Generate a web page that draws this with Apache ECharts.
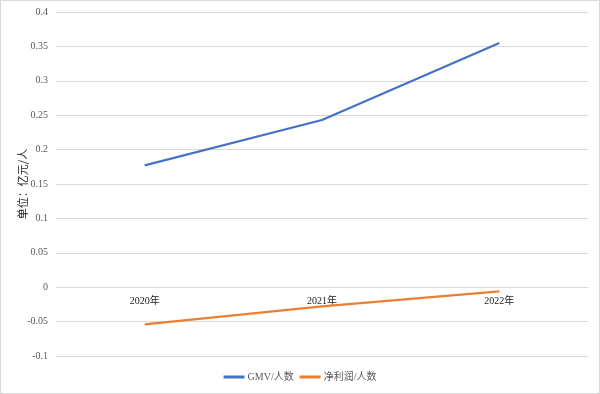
<!DOCTYPE html>
<html><head><meta charset="utf-8">
<script src="https://cdn.jsdelivr.net/npm/echarts@6/dist/echarts.min.js"></script>
<style>html,body{margin:0;padding:0;background:#fff}#c{width:600px;height:394px;box-sizing:border-box;border:1px solid #d9d9d9}</style>
</head><body><div id="c"></div>
<script>
const categories = ['2020年','2021年','2022年'];
const gmvPerPerson = [0.177, 0.243, 0.355];
const profitPerPerson = [-0.054, -0.028, -0.006];
const seriesNames = ['GMV/人数','净利润/人数'];

const chart = echarts.init(document.getElementById('c'));
chart.setOption({
  animation:false,
  textStyle:{fontFamily:'"Liberation Serif","Noto Sans CJK SC",serif'},
  grid:{left:55,right:11,top:11,bottom:37,containLabel:false,outerBoundsMode:'none'},
  legend:{bottom:6,left:'center',itemWidth:21,itemHeight:3,icon:'rect',itemGap:6,
    textStyle:{fontSize:10,color:'#595959',padding:[0,0,0,-2],fontFamily:'"Liberation Serif","Noto Sans CJK SC",serif'},
    data:seriesNames},
  xAxis:{type:'category',data:categories,boundaryGap:true,position:'bottom',offset:-69,
    axisLine:{show:false,onZero:false},axisTick:{show:false},
    axisLabel:{color:'#222',fontSize:10,margin:9,fontFamily:'"Liberation Serif","Noto Sans CJK SC",serif'}},
  yAxis:{type:'value',min:-0.1,max:0.4,interval:0.05,
    name:'单位：亿元/人',nameLocation:'middle',nameGap:28,nameRotate:90,nameMoveOverlap:false,
    nameTextStyle:{color:'#222',fontSize:11,fontFamily:'"Noto Sans CJK SC",sans-serif'},
    axisLine:{show:false},axisTick:{show:false},
    axisLabel:{color:'#595959',fontSize:10,margin:8,formatter:v=>String(parseFloat(v.toFixed(2)))},
    splitLine:{lineStyle:{color:'#d9d9d9',width:1}}},
  series:[
    {name:seriesNames[0],type:'line',data:gmvPerPerson,symbol:'none',lineStyle:{color:'#4472c4',width:2.2},itemStyle:{color:'#4472c4'}},
    {name:seriesNames[1],type:'line',data:profitPerPerson,symbol:'none',lineStyle:{color:'#ed7d31',width:2.2},itemStyle:{color:'#ed7d31'}}
  ]
});
</script></body></html>
